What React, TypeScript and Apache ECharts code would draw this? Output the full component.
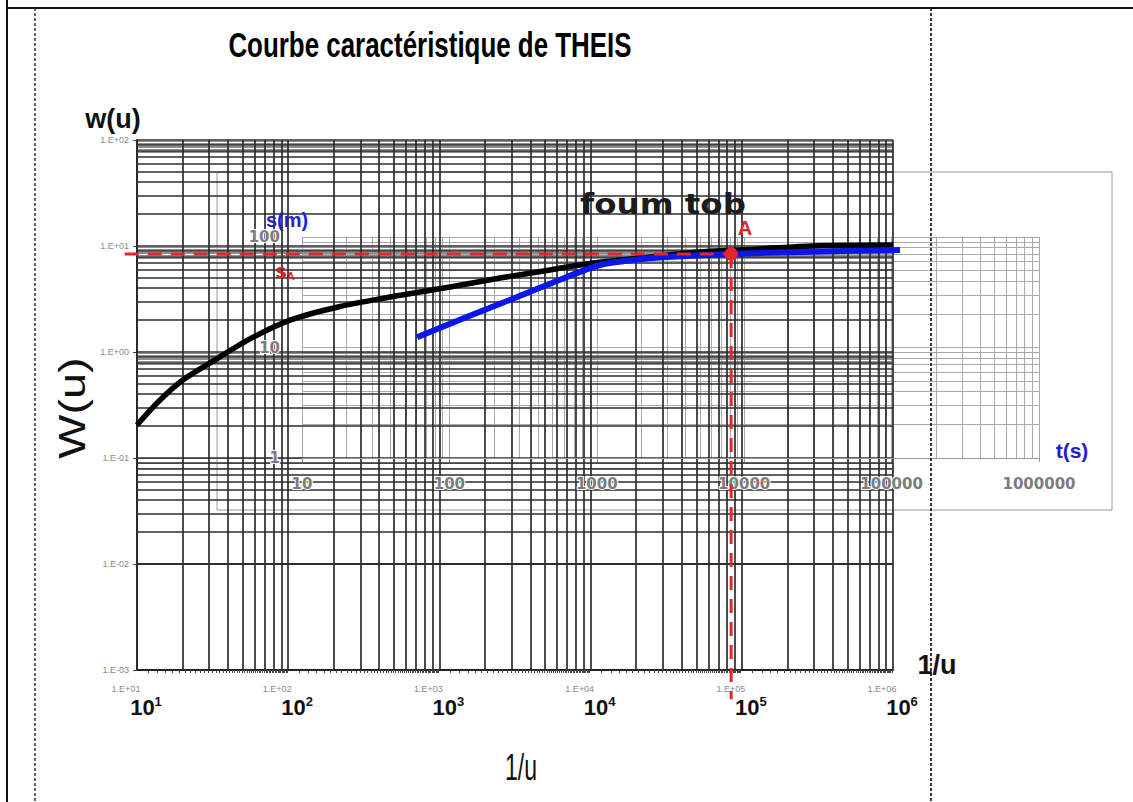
import React, { useEffect, useRef } from "react";
import * as echarts from "echarts";

// Theis type curve W(u) versus 1/u
const theisInvU = [10, 14.2, 20.1, 30.4, 55.9, 103, 220, 471, 1175, 2517, 5383, 10370, 24700, 52900, 131800, 295600, 1000000];
const theisW = [0.205, 0.352, 0.544, 0.788, 1.33, 2.0, 2.69, 3.3, 4.11, 4.99, 5.94, 6.92, 7.87, 8.78, 9.37, 10.0, 10.2];

// Field data "foum tob": drawdown s(m) versus time t(s)
const pumpT = [60.3, 131, 288, 628, 1052, 1762, 2995, 8017, 23930, 114000];
const pumpS = [12.4, 18.9, 28.6, 43.5, 55.8, 61.9, 65.9, 70.2, 73.2, 76.3];

// Match point A (in 1/u , W(u) coordinates)
const pointA = [85000, 8.4];
const refLineStartX = 8.3;
const refLineEndY = 0.00053;

// Axis decades and log-paper subdivisions
const invUDecades = [10, 100, 1000, 10000, 100000, 1000000];
const wDecades = [0.001, 0.01, 0.1, 1, 10, 100];
const minorSteps = [2, 3, 4, 5, 6, 7, 8, 9];
const bandSteps = [7.6, 7.9, 8.2, 8.5, 8.8, 9.1, 9.4, 9.7];
const tDecades = [10, 100, 1000, 10000, 100000, 1000000];
const sDecades = [1, 10, 100];

function expand(decades: number[], steps: number[]) {
  const out: number[] = [];
  decades.forEach((d, i) => {
    out.push(d);
    if (i < decades.length - 1) steps.forEach((s) => out.push(d * s));
  });
  return out;
}
function bands(decades: number[], steps: number[]) {
  const out: number[] = [];
  decades.forEach((d, i) => {
    if (i < decades.length - 1) steps.forEach((s) => out.push(d * s));
  });
  return out;
}

const ARIAL = '"Liberation Sans", Arial, sans-serif';
const CENTER = { align: "center", verticalAlign: "middle", textAlign: "center", textVerticalAlign: "middle" };

export default function App() {
  const ref = useRef<HTMLDivElement>(null);
  useEffect(() => {
    if (!ref.current) return;
    const chart = echarts.init(ref.current, undefined, { renderer: "svg" });

    const mainV = expand(invUDecades, minorSteps);
    const mainH = expand(wDecades, minorSteps);
    const mainBand = bands(wDecades, bandSteps);
    const ovV = expand(tDecades, minorSteps);
    const ovH = expand(sDecades, minorSteps);

    const gridSeries = (xi: number, color: string, width: number, v: number[], h: number[], z: number) => ({
      type: "line",
      xAxisIndex: xi,
      yAxisIndex: xi,
      data: [],
      silent: true,
      z,
      markLine: {
        silent: true,
        symbol: ["none", "none"],
        label: { show: false },
        animation: false,
        lineStyle: { color, width, type: "solid", opacity: 1 },
        emphasis: { disabled: true },
        data: [...v.map((x) => ({ xAxis: x })), ...h.map((y) => ({ yAxis: y }))],
      },
    });

    chart.setOption({
      animation: false,
      grid: [
        { left: 137, top: 140, width: 756, height: 530 },
        { left: 302, top: 237, width: 737, height: 221 },
      ],
      xAxis: [
        {
          type: "log",
          logBase: 10,
          gridIndex: 0,
          min: 10,
          max: 1000000,
          z: 3,
          splitLine: { show: false },
          axisLine: { show: true, lineStyle: { color: "#222", width: 2 } },
          axisTick: { show: false },
          minorTick: { show: true, splitNumber: 50, length: 3, lineStyle: { color: "#444", width: 1 } },
          axisLabel: {
            margin: 12,
            formatter: (v: number) => {
              const n = Math.round(Math.log10(v));
              return `{g|1.E+0${n}}\n{b|10}{p|${n}}`;
            },
            rich: {
              g: { fontSize: 9, color: "#8a8a8a", fontFamily: ARIAL, padding: [0, 22, 0, 0], lineHeight: 13 },
              b: { fontSize: 22, fontWeight: "bold", color: "#111", fontFamily: ARIAL, padding: [0, 0, 0, 18], lineHeight: 24 },
              p: { fontSize: 13, fontWeight: "bold", color: "#111", fontFamily: ARIAL, verticalAlign: "top", lineHeight: 24 },
            },
          },
        },
        {
          type: "log",
          logBase: 10,
          gridIndex: 1,
          min: 10,
          max: 1000000,
          z: 10,
          splitLine: { show: false },
          axisLine: { show: true, lineStyle: { color: "#999", width: 1 } },
          axisTick: { show: true, length: 4, lineStyle: { color: "#999" } },
          axisLabel: {
            margin: 18,
            formatter: (v: number) => String(Math.round(v)),
            fontFamily: '"DejaVu Sans", sans-serif',
            fontWeight: "bold",
            fontSize: 15,
            color: "#7c7c7c",
            textBorderColor: "#fff",
            textBorderWidth: 2,
          },
        },
      ],
      yAxis: [
        {
          type: "log",
          logBase: 10,
          gridIndex: 0,
          min: 0.001,
          max: 100,
          z: 3,
          splitLine: { show: false },
          axisLine: { show: true, lineStyle: { color: "#222", width: 2 } },
          axisTick: { show: true, length: 4, lineStyle: { color: "#444" } },
          axisLabel: {
            margin: 8,
            fontSize: 9,
            color: "#8a8a8a",
            fontFamily: ARIAL,
            formatter: (v: number) => {
              const n = Math.round(Math.log10(v));
              return `1.E${n >= 0 ? "+" : "-"}0${Math.abs(n)}`;
            },
          },
        },
        {
          type: "log",
          logBase: 10,
          gridIndex: 1,
          min: 1,
          max: 100,
          z: 10,
          splitLine: { show: false },
          axisLine: { show: false },
          axisTick: { show: false },
          axisLabel: {
            margin: 22,
            formatter: (v: number) => String(Math.round(v)),
            fontFamily: '"DejaVu Sans", sans-serif',
            fontWeight: "bold",
            fontSize: 15,
            color: "#7c7c7c",
            textBorderColor: "#fff",
            textBorderWidth: 2,
          },
        },
      ],
      series: [
        gridSeries(1, "#a9a9a9", 1, ovV, ovH, 1),
        gridSeries(0, "#8e8e8e", 1, [], mainBand, 2),
        gridSeries(0, "#2c2c2c", 1.7, mainV, mainH, 3),
        {
          type: "line",
          name: "W(u)",
          xAxisIndex: 0,
          yAxisIndex: 0,
          data: theisInvU.map((x, i) => [x, theisW[i]]),
          smooth: 0.3,
          symbol: "none",
          lineStyle: { color: "#000", width: 5.5 },
          z: 5,
          silent: true,
        },
        {
          type: "line",
          name: "foum tob",
          xAxisIndex: 1,
          yAxisIndex: 1,
          data: pumpT.map((x, i) => [x, pumpS[i]]),
          smooth: 0.3,
          symbol: "none",
          lineStyle: { color: "#0b16e8", width: 6 },
          z: 6,
          silent: true,
        },
        {
          type: "scatter",
          xAxisIndex: 0,
          yAxisIndex: 0,
          data: [pointA],
          symbolSize: 13,
          itemStyle: { color: "#e3262b" },
          z: 8,
          silent: true,
        },
      ],
    });

    // reference lines through A, placed with the chart's own scales
    const toPx = (p: number[]) => chart.convertToPixel({ xAxisIndex: 0, yAxisIndex: 0 }, p) as number[];
    const pA = toPx(pointA);
    const pL = toPx([refLineStartX, pointA[1]]);
    const pB = toPx([pointA[0], refLineEndY]);
    const dashStyle = { stroke: "#e3262b", lineWidth: 3, lineDash: [14, 9] };

    chart.setOption({
      graphic: [
        { type: "line", shape: { x1: pL[0], y1: pL[1], x2: pA[0], y2: pA[1] }, style: dashStyle, z: 50 },
        { type: "line", shape: { x1: pA[0], y1: pA[1], x2: pB[0], y2: pB[1] }, style: dashStyle, z: 50 },
        { type: "circle", shape: { cx: pA[0], cy: pA[1], r: 6.5 }, style: { fill: "#e3262b" }, z: 51 },
        { type: "line", shape: { x1: 7, y1: 0, x2: 7, y2: 802 }, style: { stroke: "#111", lineWidth: 2 }, z: 100 },
        { type: "line", shape: { x1: 6, y1: 8, x2: 1133, y2: 8 }, style: { stroke: "#111", lineWidth: 2 }, z: 100 },
        { type: "line", shape: { x1: 35, y1: 8, x2: 35, y2: 802 }, style: { stroke: "#333", lineWidth: 1.5, lineDash: [3, 2] }, z: 100 },
        { type: "line", shape: { x1: 931, y1: 8, x2: 931, y2: 802 }, style: { stroke: "#222", lineWidth: 1.8, lineDash: [3, 2] }, z: 100 },
        { type: "rect", shape: { x: 217, y: 172, width: 895, height: 338 }, style: { fill: "none", stroke: "#9a9a9a", lineWidth: 1 }, z: 0 },
        {
          type: "text", x: 430, y: 45, scaleX: 0.72, z: 100,
          style: { text: "Courbe caractéristique de THEIS", font: `bold 36px ${ARIAL}`, fill: "#000", ...CENTER },
        },
        {
          type: "text", x: 113, y: 119, z: 100,
          style: { text: "w(u)", font: `bold 27px ${ARIAL}`, fill: "#111", ...CENTER },
        },
        {
          type: "text", x: 72, y: 408, rotation: Math.PI / 2, scaleX: 1.3, z: 100,
          style: { text: "W(u)", font: `36px ${ARIAL}`, fill: "#111", ...CENTER },
        },
        {
          type: "text", x: 937, y: 665, z: 100,
          style: { text: "1/u", font: `bold 27px ${ARIAL}`, fill: "#111", ...CENTER },
        },
        {
          type: "text", x: 521, y: 767, scaleX: 0.64, z: 100,
          style: { text: "1/u", font: `36px ${ARIAL}`, fill: "#111", ...CENTER },
        },
        {
          type: "text", x: 663, y: 204, scaleX: 1.16, z: 100,
          style: { text: "foum tob", font: 'bold 28px "DejaVu Sans", sans-serif', fill: "#1c1c1c", ...CENTER },
        },
        {
          type: "text", x: 745, y: 228, z: 100,
          style: { text: "A", font: `bold 20px ${ARIAL}`, fill: "#e3262b", ...CENTER },
        },
        {
          type: "text", x: 285, y: 270, z: 100,
          style: {
            text: "{s|s}{a|A}",
            ...CENTER,
            rich: {
              s: { fontSize: 21, fontWeight: "bold", fontFamily: ARIAL, fill: "#d42222", color: "#d42222", verticalAlign: "bottom", lineHeight: 22 },
              a: { fontSize: 11, fontWeight: "bold", fontFamily: ARIAL, fill: "#d42222", color: "#d42222", verticalAlign: "bottom", lineHeight: 22 },
            },
          },
        },
        {
          type: "text", x: 287, y: 220, z: 100,
          style: { text: "s(m)", font: `bold 20px ${ARIAL}`, fill: "#2222cc", ...CENTER },
        },
        {
          type: "text", x: 1072, y: 450, z: 100,
          style: { text: "t(s)", font: `bold 21px ${ARIAL}`, fill: "#2020c8", ...CENTER },
        },
      ],
    });
    return () => chart.dispose();
  }, []);
  return <div ref={ref} style={{ position: "fixed", left: 0, top: 0, width: 1133, height: 802, background: "#fff" }} />;
}
